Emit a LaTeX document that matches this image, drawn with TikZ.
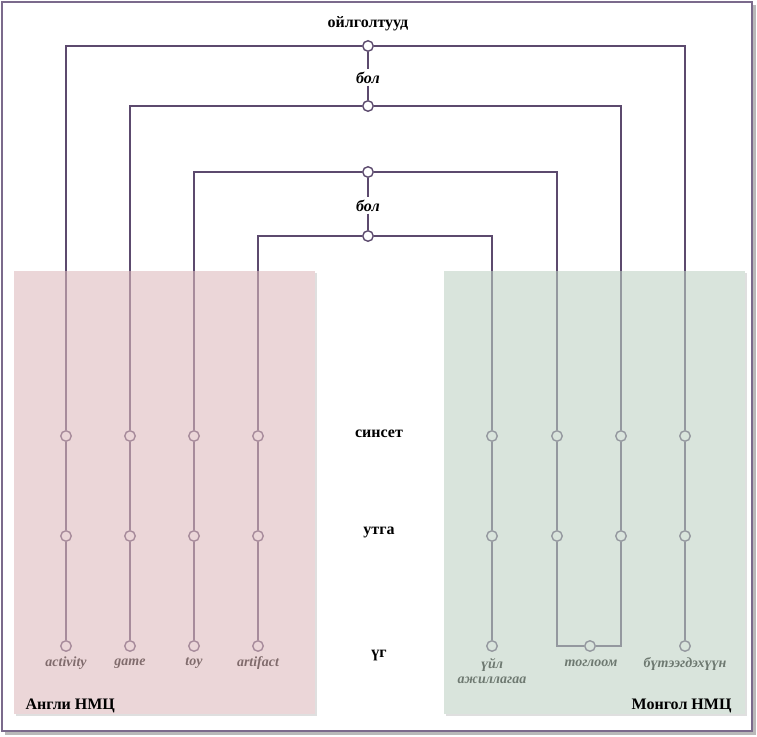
\documentclass[tikz,border=0pt]{standalone}
\usepackage{fontspec}
\setmainfont{Liberation Serif}
\usetikzlibrary{positioning}
\definecolor{lnk}{HTML}{5C4A6E}
\definecolor{frm}{HTML}{7B6A8C}
\definecolor{pnlE}{HTML}{DEBABC}
\definecolor{pnlM}{HTML}{BED1C3}
\tikzset{
  dot/.style={circle,draw=lnk,fill=white,line width=1.4pt,inner sep=0pt,minimum size=10.5pt},
  link/.style={draw=lnk,line width=1.6pt},
  lvl/.style={font=\fontsize{16}{18}\selectfont\bfseries},
  rel/.style={font=\fontsize{16}{18}\selectfont\bfseries\itshape,inner sep=2pt},
  word/.style={font=\fontsize{14}{15}\selectfont\bfseries\itshape,align=center,inner sep=0pt},
  panel/.style={fill opacity=.58}
}
\begin{document}
\begin{tikzpicture}[x=1pt,y=-1pt]
\useasboundingbox (0,0) rectangle (757,736);
%frame
\fill[gray!55] (5,5) rectangle (755.5,734.5);
\fill[white] (1.5,1.5) rectangle (752,731);
\draw[frm,line width=2pt] (1.5,1.5) rectangle (752,731);
%panel shadows
\fill[gray!25] (16,273) rectangle (317,716);
\fill[gray!25] (446,273) rectangle (747,716);
\fill[white] (14,271) rectangle (315,714);
\fill[white] (444,271) rectangle (745,714);
%concepts
\node[lvl] (ojl) at (368,23.5) {ойлголтууд};
\node[dot] (c1) at (368,46) {};
\node[rel] (b1) at (368,77.5) {бол};
\node[dot] (c2) at (368,106) {};
\node[dot] (c3) at (368,172) {};
\node[rel] (b2) at (368,205.5) {бол};
\node[dot] (c4) at (368,236) {};
\draw[link] (c1) -- (b1) -- (c2);
\draw[link] (c3) -- (b2) -- (c4);
%levels
\node[lvl] (lsyn) at (379,433.5) {синсет};
\node[lvl] (lmng) at (379,532.5) {утга};
\node[lvl] (lwrd) at (379,655.5) {үг};
%columns
\foreach \i/\x in {1/66,2/130,3/194,4/258,5/492,6/557,7/621,8/685} {
  \node[dot] (s\i) at (\x,436) {};
  \node[dot] (m\i) at (\x,536) {};
  \draw[link] (s\i) -- (m\i);
}
\foreach \i/\x in {1/66,2/130,3/194,4/258,5/492,8/685} {
  \node[dot] (w\i) at (\x,646) {};
  \draw[link] (m\i) -- (w\i);
}
\node[dot] (w67) at (590,646) {};
\draw[link] (m6) |- (w67) -| (m7);
%concept links
\draw[link] (c1) -| (s1);
\draw[link] (c1) -| (s8);
\draw[link] (c2) -| (s2);
\draw[link] (c2) -| (s7);
\draw[link] (c3) -| (s3);
\draw[link] (c3) -| (s6);
\draw[link] (c4) -| (s4);
\draw[link] (c4) -| (s5);
%words
\node[word] (tw1) at (66,663.5) {activity};
\node[word] (tw2) at (130,663.5) {game};
\node[word] (tw3) at (194,663.5) {toy};
\node[word] (tw4) at (258,663.5) {artifact};
\node[word] (tw5) at (492,671) {үйл\\ажиллагаа};
\node[word] (tw67) at (591,663.5) {тоглоом};
\node[word] (tw8) at (685,663.5) {бүтээгдэхүүн};
%panels
\fill[pnlE,panel] (14,271) rectangle (315,714);
\fill[pnlM,panel] (444,271) rectangle (745,714);
\node[lvl,anchor=west] (eng) at (22,705.5) {Англи НМЦ};
\node[lvl,anchor=east] (mon) at (735,705.5) {Монгол НМЦ};
\end{tikzpicture}
\end{document}
